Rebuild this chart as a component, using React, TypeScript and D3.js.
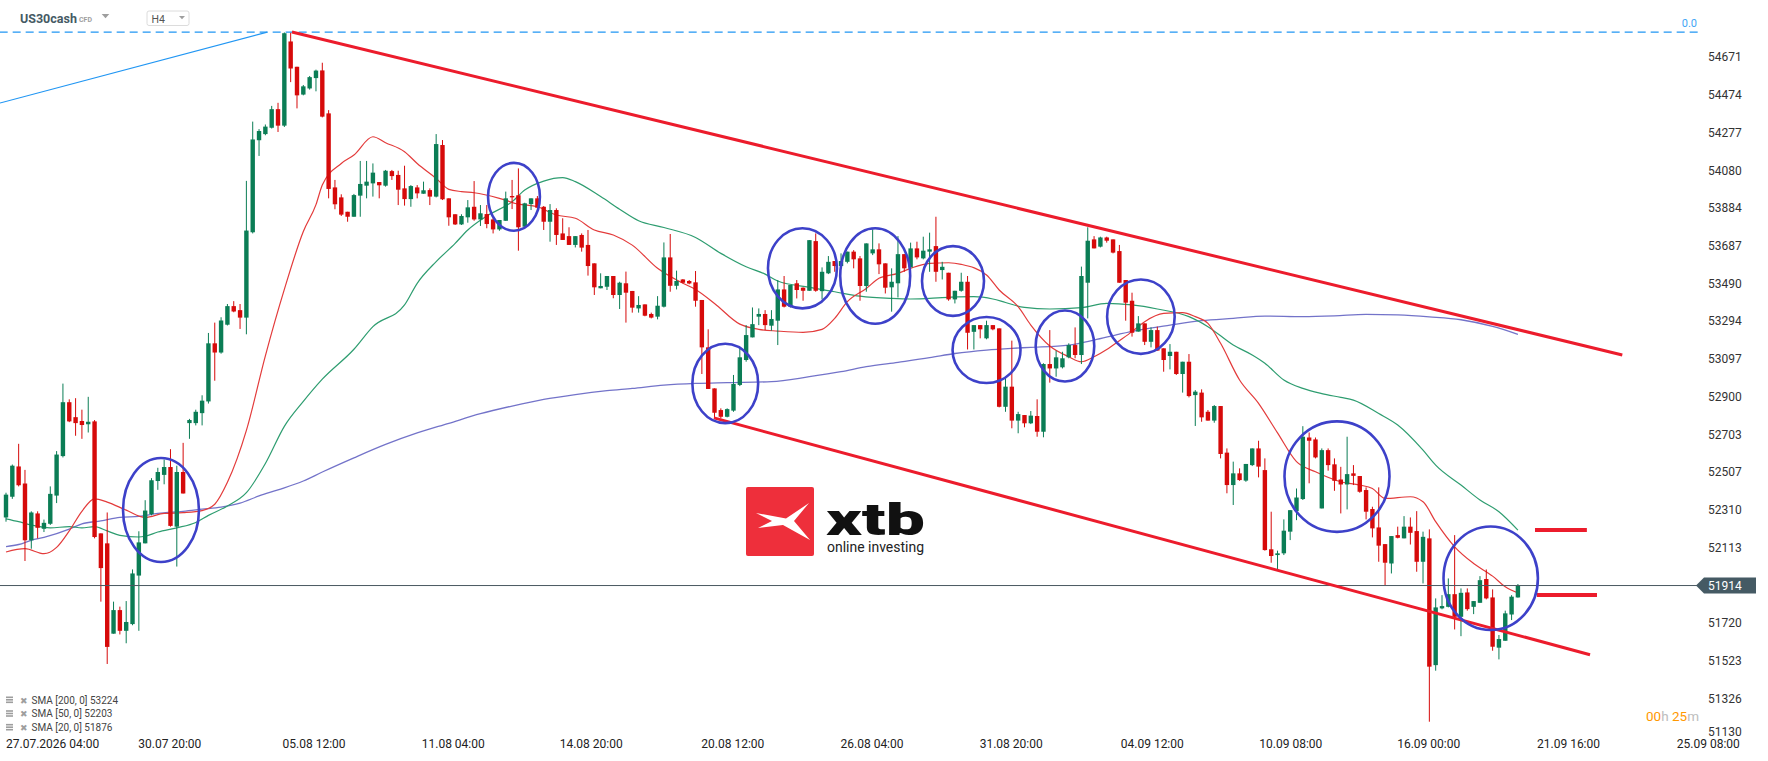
import React from "react";
import * as d3 from "d3";

const opens = [52269,52377,52535,52446,52150,52290,52210,52236,52383,52589,52870,52792,52772,52755,52770,52186,52134,51663,51786,51678,51713,51966,52134,52286,52459,52491,52532,52221,52506,52761,52761,52813,52874,53177,53129,53274,53371,53350,53311,53756,54236,54268,54301,54398,54312,54751,54619,54474,54506,54560,54600,54376,53990,53938,53863,53837,53947,53999,54011,54018,53999,54075,54055,53985,53929,53990,53957,53976,53942,54211,53933,53850,53797,53834,53889,53823,53851,53823,53771,53816,53945,53949,53785,53903,53933,53889,53811,53872,53750,53736,53690,53742,53690,53594,53464,53472,53528,53429,53490,53450,53359,53380,53330,53316,53368,53625,53477,53510,53502,53495,53403,53156,52942,52829,52794,52826,52960,53090,53208,53316,53330,53269,53295,53458,53368,53490,53467,53451,53710,53449,53542,53606,53580,53602,53655,53620,53476,53646,53667,53594,53469,53490,53642,53573,53672,53620,53655,53684,53559,53545,53406,53451,53498,53237,53272,53203,53272,53255,52846,52951,52774,52803,52760,52798,52716,53069,53046,53052,53104,53168,53116,53493,53719,53681,53729,53719,53658,53507,53399,53238,53281,53185,53246,53151,53111,53133,53017,53081,52907,52920,52820,52774,52850,52607,52438,52499,52461,52542,52629,52516,52103,52073,52082,52195,52302,52365,52686,52676,52316,52620,52546,52467,52441,52499,52485,52412,52313,52217,52130,52029,52177,52160,52221,52198,52038,52160,51499,51795,51803,51869,51751,51878,51803,51824,51948,51852,51590,51626,51763,51852];
const highs = [52398,52545,52653,52517,52301,52301,52258,52431,52615,52967,52885,52891,52831,52898,52777,52186,52295,51830,51804,51833,51998,52197,52359,52474,52528,52571,52625,52539,52658,52783,52831,52906,53231,53285,53313,53382,53397,53382,54024,54333,54294,54318,54415,54431,54798,54798,54619,54524,54571,54604,54640,54393,54029,53954,53863,53956,54128,54128,54115,54018,54081,54081,54077,54103,54002,54002,54020,53985,54268,54237,53933,53850,53850,53924,54023,53898,53898,53837,53820,53968,54029,54089,53910,53933,53945,53893,53903,53881,53829,53782,53736,53750,53768,53594,53542,53528,53528,53498,53551,53450,53423,53380,53337,53423,53703,53747,53556,53512,53507,53554,53403,53250,52942,52838,52838,53012,53156,53272,53364,53359,53350,53350,53507,53528,53481,53507,53469,53715,53750,53573,53632,53606,53646,53655,53663,53632,53698,53771,53698,53594,53568,53736,53642,53702,53707,53733,53754,53837,53602,53545,53451,53545,53528,53272,53272,53295,53272,53255,53003,53191,52820,52803,52824,52885,53073,53246,53139,53133,53177,53260,53577,53782,53736,53733,53733,53719,53690,53507,53441,53319,53281,53260,53264,53151,53173,53133,53081,53121,52933,52937,52829,52855,52850,52629,52560,52525,52548,52629,52669,52577,52299,52096,52259,52308,52420,52745,52712,52686,52629,52629,52577,52533,52690,52542,52485,52426,52325,52426,52130,52172,52221,52276,52269,52302,52195,52207,51847,51864,51951,52177,51899,51899,51833,51963,51998,51894,51656,51783,51864,51922];
const lows = [52247,52366,52431,52042,52106,52160,52193,52230,52344,52582,52766,52695,52679,52712,52160,51830,51505,51663,51659,51613,51707,51678,52134,52280,52413,52442,52221,52013,52394,52679,52749,52749,52863,52982,53123,53270,53339,53252,53224,53750,54154,54262,54297,54279,54305,54539,54402,54470,54500,54491,54355,53933,53876,53841,53811,53837,53837,53933,53942,53933,53994,54029,53898,53895,53889,53933,53957,53898,53938,53924,53790,53794,53794,53806,53816,53789,53777,53750,53764,53815,53877,53660,53782,53872,53880,53768,53707,53690,53716,53690,53677,53655,53530,53429,53464,53455,53412,53356,53285,53337,53337,53318,53307,53302,53364,53446,53458,53490,53485,53368,53017,52939,52786,52786,52791,52820,52954,53081,53208,53272,53246,53243,53168,53364,53364,53411,53399,53451,53446,53406,53538,53550,53576,53594,53568,53399,53446,53637,53538,53437,53342,53416,53550,53573,53615,53615,53550,53498,53510,53399,53385,53446,53145,53145,53203,53198,53245,52843,52820,52734,52708,52739,52756,52690,52687,52972,53003,53046,53099,53099,53069,53307,53672,53677,53702,53646,53493,53295,53212,53238,53168,53156,53139,53029,53041,53012,52920,52895,52746,52768,52774,52763,52577,52395,52334,52460,52455,52537,52478,52096,52033,51995,52073,52151,52255,52360,52447,52577,52316,52513,52408,52290,52311,52438,52398,52259,52165,52038,51916,51977,52160,52160,52128,51986,51925,51204,51470,51790,51800,51685,51650,51783,51765,51824,51842,51574,51529,51626,51734,51851];
const closes = [52388,52539,52437,52150,52295,52215,52241,52392,52597,52870,52770,52761,52751,52768,52167,52005,51594,51786,51678,51724,51977,52139,52305,52463,52506,52532,52225,52506,52394,52777,52820,52878,53177,53129,53296,53371,53343,53311,53765,54240,54284,54307,54398,54312,54794,54610,54470,54517,54565,54599,54359,53982,53902,53848,53837,53950,54008,54020,54067,54001,54077,54049,53978,53929,53997,53959,53975,53942,54216,53928,53834,53797,53841,53886,53823,53855,53799,53771,53820,53933,53938,53782,53907,53933,53884,53811,53872,53742,53716,53690,53736,53676,53580,53469,53476,53528,53429,53493,53441,53363,53377,53321,53311,53373,53625,53477,53502,53493,53489,53399,53156,52939,52815,52794,52834,52965,53104,53220,53277,53330,53272,53304,53458,53368,53481,53455,53451,53715,53451,53550,53602,53580,53606,53655,53615,53476,53698,53667,53589,53467,53498,53642,53568,53672,53625,53660,53667,53550,53576,53406,53451,53498,53232,53272,53250,53272,53250,52846,52951,52774,52808,52760,52800,52716,53069,53046,53104,53099,53168,53116,53528,53712,53672,53729,53712,53650,53493,53389,53232,53281,53185,53246,53139,53090,53133,53017,53081,52902,52925,52791,52774,52850,52600,52438,52499,52464,52548,52629,52534,52099,52068,52082,52200,52307,52373,52690,52669,52582,52620,52542,52460,52441,52495,52486,52403,52299,52212,52122,52033,52172,52163,52221,52189,52038,52168,51491,51800,51807,51869,51751,51876,51791,51833,51942,51847,51595,51635,51769,51856,51914];

// SMA lines: [bar index, value]
const sma20: [number, number][] = [[0,52089],[3,52106],[6,52080],[8,52113],[10,52199],[12,52301],[14,52366],[16,52349],[19,52307],[22,52269],[25,52290],[28,52294],[31,52305],[33,52338],[35,52452],[38,52723],[41,53112],[44,53458],[47,53760],[49,53900],[50,54002],[53,54115],[55,54159],[58,54254],[60,54223],[63,54176],[65,54115],[68,54037],[70,53980],[72,53968],[74,53962],[78,53933],[81,53903],[84,53889],[87,53846],[90,53829],[93,53768],[96,53742],[99,53689],[103,53568],[107,53490],[109,53458],[112,53385],[116,53277],[119,53250],[122,53241],[126,53234],[129,53250],[131,53307],[133,53394],[136,53463],[138,53516],[141,53542],[143,53568],[146,53594],[149,53597],[151,53589],[155,53533],[157,53455],[160,53368],[162,53272],[165,53163],[168,53107],[170,53081],[172,53107],[174,53145],[176,53191],[178,53238],[180,53290],[183,53333],[186,53337],[188,53316],[190,53281],[192,53177],[195,52986],[198,52864],[201,52710],[204,52560],[207,52507],[211,52455],[214,52438],[216,52420],[218,52368],[222,52377],[224,52351],[226,52247],[229,52116],[232,52029],[235,51963],[237,51908],[239,51876]];
const sma50: [number, number][] = [[0,52262],[2,52247],[4,52230],[7,52215],[10,52221],[12,52215],[14,52221],[16,52199],[18,52176],[21,52167],[22,52171],[24,52193],[27,52215],[30,52243],[32,52280],[35,52329],[38,52398],[41,52550],[44,52744],[47,52874],[50,52990],[55,53146],[58,53264],[63,53377],[65,53490],[68,53603],[71,53698],[73,53768],[76,53841],[80,53915],[82,53976],[85,54023],[88,54041],[90,54020],[94,53942],[97,53876],[100,53816],[104,53781],[109,53729],[113,53646],[117,53576],[120,53538],[122,53502],[127,53469],[131,53446],[135,53423],[140,53411],[143,53408],[149,53417],[153,53420],[156,53408],[158,53390],[161,53364],[165,53356],[170,53363],[174,53385],[178,53377],[182,53356],[187,53316],[190,53264],[194,53168],[197,53116],[199,53073],[202,52986],[205,52942],[208,52915],[211,52895],[213,52881],[217,52811],[220,52751],[224,52620],[226,52542],[230,52438],[233,52360],[236,52299],[239,52203]];
const sma200: [number, number][] = [[0,52117],[2,52128],[4,52150],[6,52165],[10,52208],[12,52236],[15,52251],[18,52269],[21,52275],[24,52290],[28,52301],[31,52312],[34,52323],[37,52344],[40,52381],[43,52413],[47,52459],[50,52506],[55,52580],[60,52650],[65,52710],[70,52760],[75,52810],[80,52850],[85,52885],[90,52910],[95,52930],[99,52942],[104,52959],[109,52968],[114,52972],[121,52977],[127,53003],[132,53029],[136,53055],[141,53078],[146,53102],[150,53124],[155,53142],[159,53151],[162,53156],[168,53168],[172,53194],[176,53225],[179,53246],[184,53272],[189,53295],[194,53307],[199,53319],[205,53316],[210,53320],[215,53328],[220,53325],[225,53315],[230,53300],[235,53265],[239,53224]];

const yTicks = [54671,54474,54277,54080,53884,53687,53490,53294,53097,52900,52703,52507,52310,52113,51720,51523,51326,51130];
const xTickLabels = ["30.07 20:00","05.08 12:00","11.08 04:00","14.08 20:00","20.08 12:00","26.08 04:00","31.08 20:00","04.09 12:00","10.09 08:00","16.09 00:00","21.09 16:00","25.09 08:00"];
const xTickBars = [25.9,48.7,70.7,92.5,114.9,136.9,158.9,181.2,203.1,224.9,247.0,269.1];
const firstLabel = "27.07.2026 04:00";
const lastPrice = 51914;
const legend = [["SMA [200, 0]", "53224"],["SMA [50, 0]", "52203"],["SMA [20, 0]", "51876"]];

// drawings (bar index, price)
const fibLevel = { from: -1, to: 267.8, price: 54800, label: "0.0" };
const rayLine: [number, number][] = [[-0.95, 54430],[41.3, 54800]];
const channelUpper: [number, number][] = [[45.2, 54800],[255.5, 53116]];
const channelLower: [number, number][] = [[111.9, 52788],[250.4, 51553]];
const targets = [[241.7, 249.9, 52204],[242.0, 251.5, 51865]];
// circles: [bar, price, radius in bars, radius in points]
const circles = [[24.5,52308,6.0,271],[80.3,53941,4.1,177],[113.7,52968,5.2,207],[125.9,53568,5.45,209],[137.4,53528,5.53,249],[149.7,53502,4.9,182],[155,53142,5.37,172],[167.4,53163,4.63,185],[179.4,53316,5.34,194],[210.4,52482,8.3,288],[234.7,51952,7.46,270]];

const W = 1768, H = 761;
const GREEN = "#0b7d55";
const RED = "#d60a0a";
const FONT = "Roboto, 'Noto Sans', sans-serif";

export default function App() {
  const x = d3.scaleLinear().domain([0, opens.length - 1]).range([6, 6 + (opens.length - 1) * 6.326]);
  const y = d3.scaleLinear().domain([51130, 54671]).range([735.9, 56.8]);
  const bw = 4.4;
  const line = d3.line<[number, number]>().x(d => x(d[0])).y(d => y(d[1])).curve(d3.curveMonotoneX);
  const straight = d3.line<[number, number]>().x(d => x(d[0])).y(d => y(d[1]));
  const bars = d3.range(opens.length);
  const plotRight = 1700;
  const py = y(lastPrice);

  return (
    <div style={{ position: "fixed", left: 0, top: 0, width: W, height: H, background: "#fff" }}>
      <svg width={W} height={H} style={{ display: "block", fontFamily: FONT }}>
        <defs>
          <clipPath id="plot"><rect x={0} y={0} width={plotRight} height={738} /></clipPath>
        </defs>
        <rect x={0} y={0} width={W} height={H} fill="#fff" />
        {/* logo */}
        <g>
          <rect x={746} y={487} width={68} height={69} rx={2} fill="#ee2f3b" />
          <polygon points="756,513 786,518.5 809,503 794,521 810,540 783,525 758,528 772,521" fill="#fff" />
          <text x={826} y={535} fontSize={44} fontWeight={900} fill="#111" fontFamily="Roboto, sans-serif" textLength={99} lengthAdjust="spacingAndGlyphs">xtb</text>
          <text x={827} y={552} fontSize={14} fill="#222" fontFamily="Roboto, sans-serif" textLength={97} lengthAdjust="spacingAndGlyphs">online investing</text>
        </g>
        <g clipPath="url(#plot)">
          {/* SMA lines */}
          <path d={line(sma200) || ""} fill="none" stroke="#5b5bbf" strokeWidth={1.3} opacity={0.85} />
          <path d={line(sma50) || ""} fill="none" stroke="#2e9d70" strokeWidth={1.2} />
          <path d={line(sma20) || ""} fill="none" stroke="#e33b3b" strokeWidth={1.2} />
          {/* candles */}
          {bars.map(i => {
            const up = closes[i] >= opens[i];
            const c = up ? GREEN : RED;
            const top = y(Math.max(opens[i], closes[i]));
            const bot = y(Math.min(opens[i], closes[i]));
            return (
              <g key={i}>
                <line x1={x(i)} x2={x(i)} y1={y(highs[i])} y2={y(lows[i])} stroke={c} strokeWidth={1} />
                <rect x={x(i) - bw / 2} y={top} width={bw} height={Math.max(1, bot - top)} fill={c} />
              </g>
            );
          })}
          {/* price line */}
          <line x1={0} x2={plotRight} y1={py} y2={py} stroke="#4a5861" strokeWidth={1} />
          {/* fib 0.0 dashed */}
          <line x1={x(fibLevel.from)} x2={x(fibLevel.to)} y1={y(fibLevel.price)} y2={y(fibLevel.price)} stroke="#2196f3" strokeWidth={1.2} strokeDasharray="8,5" />
          <path d={straight(rayLine) || ""} stroke="#2196f3" strokeWidth={1.2} fill="none" />
          {/* channel */}
          <path d={straight(channelUpper) || ""} stroke="#ec1c2c" strokeWidth={3} fill="none" />
          <path d={straight(channelLower) || ""} stroke="#ec1c2c" strokeWidth={3} fill="none" />
          {targets.map((t, k) => (
            <line key={k} x1={x(t[0])} x2={x(t[1])} y1={y(t[2])} y2={y(t[2])} stroke="#ec1c2c" strokeWidth={4} />
          ))}
          {circles.map((c, k) => (
            <ellipse key={k} cx={x(c[0])} cy={y(c[1])} rx={x(c[0] + c[2]) - x(c[0])} ry={y(c[1] - c[3]) - y(c[1])} fill="none" stroke="#3d41c9" strokeWidth={2.6} />
          ))}
        </g>
        <text x={1697} y={26.5} fontSize={11} fill="#42a5f5" textAnchor="end">{fibLevel.label}</text>
        {/* y axis */}
        {yTicks.map(v => (
          <text key={v} x={1708} y={Math.min(y(v), 731.5) + 4.5} fontSize={12} fill="#333">{v}</text>
        ))}
        {/* price label */}
        <polygon points={`1696,${py} 1704,${py - 8} 1756,${py - 8} 1756,${py + 8} 1704,${py + 8}`} fill="#455a64" />
        <text x={1708} y={py + 4.5} fontSize={12} fill="#fff">{lastPrice}</text>
        {/* x axis */}
        <text x={x(0)} y={748} fontSize={12} fill="#222">{firstLabel}</text>
        {xTickLabels.map((l, k) => (
          <text key={l} x={x(xTickBars[k])} y={748} fontSize={12} fill="#222" textAnchor="middle">{l}</text>
        ))}
        {/* timer */}
        <text x={1699} y={721} fontSize={13.5} textAnchor="end">
          <tspan fill="#ff9800">00</tspan><tspan fill="#bdbdbd">h </tspan><tspan fill="#ff9800">25</tspan><tspan fill="#bdbdbd">m</tspan>
        </text>
        {/* legend */}
        {legend.map((l, k) => (
          <g key={k} transform={`translate(6, ${703.5 + k * 13.7})`}>
            <rect x={0} y={-7} width={7} height={1.6} fill="#9e9e9e" />
            <rect x={0} y={-4.5} width={7} height={1.6} fill="#9e9e9e" />
            <rect x={0} y={-2} width={7} height={1.6} fill="#9e9e9e" />
            <text x={14} y={0} fontSize={9} fill="#9e9e9e">✖</text>
            <text x={25.5} y={0} fontSize={10} fill="#444">{`${l[0]} ${l[1]}`}</text>
          </g>
        ))}
        {/* header */}
        <text x={20} y={22.5} fontSize={12.5} fontWeight={700} fill="#455a64">US30cash</text>
        <text x={79} y={21.5} fontSize={7} fontWeight={700} fill="#9e9e9e">CFD</text>
        <polygon points="101.7,14 109.3,14 105.5,18.3" fill="#9e9e9e" />
        <rect x={147} y={11} width={42} height={14.5} rx={2} fill="#fff" stroke="#dcdcdc" />
        <text x={151.5} y={22.5} fontSize={10.5} fill="#555">H4</text>
        <polygon points="179,16 185,16 182,19.3" fill="#9e9e9e" />
      </svg>
    </div>
  );
}
